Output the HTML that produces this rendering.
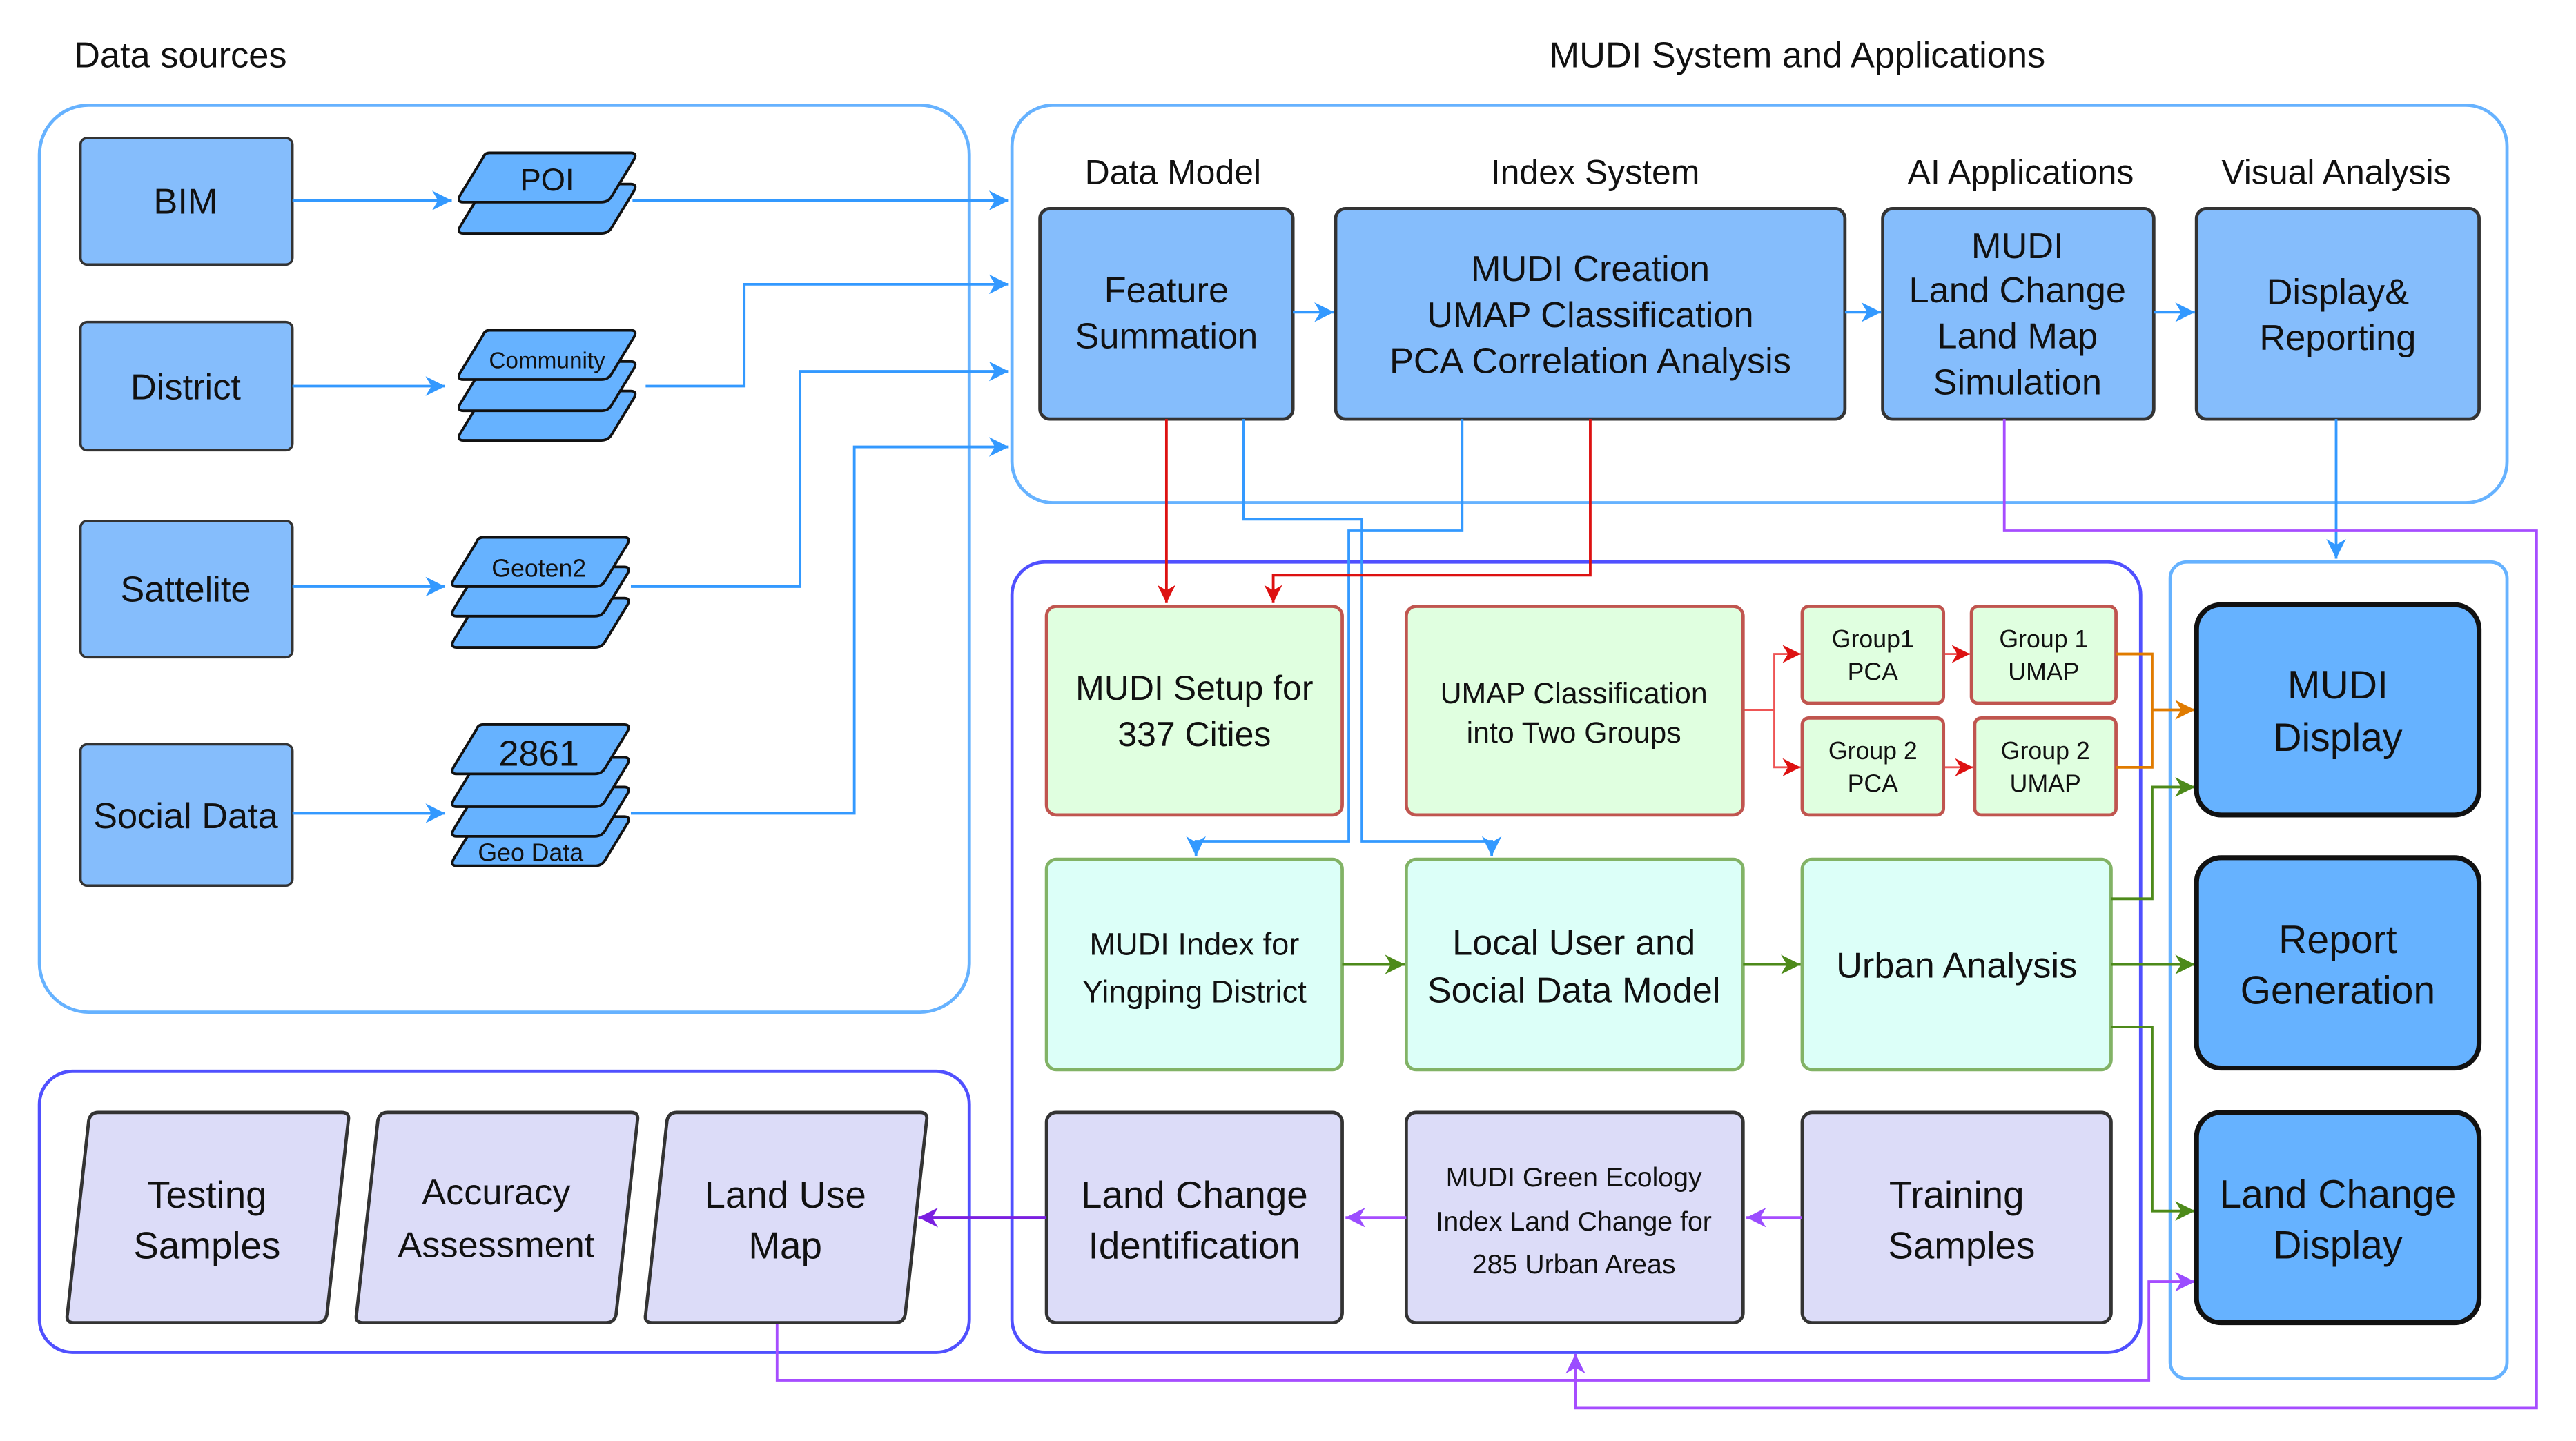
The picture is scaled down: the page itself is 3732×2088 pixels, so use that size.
<!DOCTYPE html>
<html><head><meta charset="utf-8"><style>
html,body{margin:0;padding:0;background:#fff;}
svg{display:block;}
text{font-family:"Liberation Sans",Arial,sans-serif;fill:#111;}
</style></head><body>
<svg xmlns="http://www.w3.org/2000/svg" width="3732" height="2088" viewBox="0 0 1568 877" preserveAspectRatio="none">
<defs>
<marker id="ab" markerUnits="userSpaceOnUse" markerWidth="12" markerHeight="12" refX="10" refY="5" orient="auto" viewBox="0 0 10 10"><path d="M0,0 L10,5 L0,10 L3,5 z" fill="#3399ff"/></marker>
<marker id="ar" markerUnits="userSpaceOnUse" markerWidth="11" markerHeight="11" refX="10" refY="5" orient="auto" viewBox="0 0 10 10"><path d="M0,0 L10,5 L0,10 L3,5 z" fill="#dd1111"/></marker>
<marker id="ag" markerUnits="userSpaceOnUse" markerWidth="12" markerHeight="12" refX="10" refY="5" orient="auto" viewBox="0 0 10 10"><path d="M0,0 L10,5 L0,10 L3,5 z" fill="#4d8a1a"/></marker>
<marker id="ao" markerUnits="userSpaceOnUse" markerWidth="12" markerHeight="12" refX="10" refY="5" orient="auto" viewBox="0 0 10 10"><path d="M0,0 L10,5 L0,10 L3,5 z" fill="#e07b00"/></marker>
<marker id="ap" markerUnits="userSpaceOnUse" markerWidth="12" markerHeight="12" refX="10" refY="5" orient="auto" viewBox="0 0 10 10"><path d="M0,0 L10,5 L0,10 L3,5 z" fill="#9b4dff"/></marker>
<marker id="ap2" markerUnits="userSpaceOnUse" markerWidth="12" markerHeight="12" refX="10" refY="5" orient="auto" viewBox="0 0 10 10"><path d="M0,0 L10,5 L0,10 L3,5 z" fill="#7a1fe0"/></marker>
<path id="lay" d="M18,0 L104,0 Q108,0 106,4 L92,27 Q90,30 86,30 L2,30 Q-2,30 0,26 L14,3 Q15,0 18,0 z"/>
</defs>

<text x="45" y="41" font-size="22">Data sources</text>
<text x="1094" y="41" font-size="22" text-anchor="middle">MUDI System and Applications</text>

<rect x="24" y="64" width="566" height="552" rx="30" fill="none" stroke="#66b2ff" stroke-width="2"/>
<rect x="616" y="64" width="910" height="242" rx="25" fill="none" stroke="#66b2ff" stroke-width="2"/>
<rect x="616" y="342" width="687" height="481" rx="20" fill="none" stroke="#5050ff" stroke-width="2"/>
<rect x="1321" y="342" width="205" height="497" rx="10" fill="none" stroke="#66b2ff" stroke-width="2"/>
<rect x="24" y="652" width="566" height="171" rx="20" fill="none" stroke="#5050ff" stroke-width="2"/>

<g fill="#85bdfc" stroke="#333" stroke-width="1.5">
<rect x="49" y="84" width="129" height="77" rx="4"/>
<rect x="49" y="196" width="129" height="78" rx="4"/>
<rect x="49" y="317" width="129" height="83" rx="4"/>
<rect x="49" y="453" width="129" height="86" rx="4"/>
</g>
<g font-size="22" text-anchor="middle">
<text x="113" y="130">BIM</text>
<text x="113" y="243">District</text>
<text x="113" y="366">Sattelite</text>
<text x="113" y="504">Social Data</text>
</g>

<g fill="#66b2ff" stroke="#111" stroke-width="1.6">
<use href="#lay" x="280" y="112"/><use href="#lay" x="280" y="93"/>
<use href="#lay" x="280" y="238"/><use href="#lay" x="280" y="220"/><use href="#lay" x="280" y="201"/>
<use href="#lay" x="276" y="364"/><use href="#lay" x="276" y="345"/><use href="#lay" x="276" y="327"/>
<use href="#lay" x="276" y="497"/><use href="#lay" x="276" y="479"/><use href="#lay" x="276" y="461"/><use href="#lay" x="276" y="441"/>
</g>
<g text-anchor="middle">
<text x="333" y="116" font-size="19">POI</text>
<text x="333" y="224" font-size="14">Community</text>
<text x="328" y="351" font-size="15">Geoten2</text>
<text x="328" y="466" font-size="22">2861</text>
<text x="323" y="524" font-size="15">Geo Data</text>
</g>

<g stroke="#3399ff" stroke-width="1.6" fill="none">
<path d="M178,122 H275" marker-end="url(#ab)"/>
<path d="M385,122 H614" marker-end="url(#ab)"/>
<path d="M178,235 H271" marker-end="url(#ab)"/>
<path d="M393,235 H453 V173 H614" marker-end="url(#ab)"/>
<path d="M178,357 H271" marker-end="url(#ab)"/>
<path d="M384,357 H487 V226 H614" marker-end="url(#ab)"/>
<path d="M178,495 H271" marker-end="url(#ab)"/>
<path d="M384,495 H520 V272 H614" marker-end="url(#ab)"/>
</g>

<g font-size="21" text-anchor="middle">
<text x="714" y="112">Data Model</text>
<text x="971" y="112">Index System</text>
<text x="1230" y="112">AI Applications</text>
<text x="1422" y="112">Visual Analysis</text>
</g>
<g fill="#85bdfc" stroke="#333" stroke-width="2">
<rect x="633" y="127" width="154" height="128" rx="6"/>
<rect x="813" y="127" width="310" height="128" rx="6"/>
<rect x="1146" y="127" width="165" height="128" rx="6"/>
<rect x="1337" y="127" width="172" height="128" rx="6"/>
</g>
<g font-size="22" text-anchor="middle">
<text x="710" y="184">Feature</text><text x="710" y="212">Summation</text>
<text x="968" y="171">MUDI Creation</text><text x="968" y="199">UMAP Classification</text><text x="968" y="227">PCA Correlation Analysis</text>
<text x="1228" y="157">MUDI</text><text x="1228" y="184">Land Change</text><text x="1228" y="212">Land Map</text><text x="1228" y="240">Simulation</text>
<text x="1423" y="185">Display&amp;</text><text x="1423" y="213">Reporting</text>
</g>
<g stroke="#3399ff" stroke-width="1.6" fill="none">
<path d="M787,190 H812" marker-end="url(#ab)"/>
<path d="M1123,190 H1145" marker-end="url(#ab)"/>
<path d="M1311,190 H1336" marker-end="url(#ab)"/>
<path d="M1422,255 V340" marker-end="url(#ab)"/>
<path d="M757,255 V316 H829 V512 H908 V521" marker-end="url(#ab)"/>
<path d="M890,255 V323 H821 V512 H728 V521" marker-end="url(#ab)"/>
</g>

<g stroke="#dd1111" stroke-width="1.6" fill="none">
<path d="M710,255 V367" marker-end="url(#ar)"/>
<path d="M968,255 V350 H775 V367" marker-end="url(#ar)"/>
</g>
<g stroke="#ee5555" stroke-width="1.2" fill="none">
<path d="M1061,432 H1080 V398 H1096" marker-end="url(#ar)"/>
<path d="M1080,432 V467 H1096" marker-end="url(#ar)"/>
<path d="M1183,398 H1199" marker-end="url(#ar)"/>
<path d="M1183,467 H1201" marker-end="url(#ar)"/>
</g>

<g stroke="#a64dff" stroke-width="1.6" fill="none">
<path d="M1220,255 V323 H1544 V857 H959 V824" marker-end="url(#ap)"/>
<path d="M473,805 V840 H1308 V780 H1336" marker-end="url(#ap)"/>
</g>

<g fill="#e0ffe0" stroke="#c0554f" stroke-width="2">
<rect x="637" y="369" width="180" height="127" rx="6"/>
<rect x="856" y="369" width="205" height="127" rx="6"/>
<rect x="1097" y="369" width="86" height="59" rx="4"/>
<rect x="1200" y="369" width="88" height="59" rx="4"/>
<rect x="1097" y="437" width="86" height="59" rx="4"/>
<rect x="1202" y="437" width="86" height="59" rx="4"/>
</g>
<g text-anchor="middle">
<text x="727" y="426" font-size="21">MUDI Setup for</text><text x="727" y="454" font-size="21">337 Cities</text>
<text x="958" y="428" font-size="18">UMAP Classification</text><text x="958" y="452" font-size="18">into Two Groups</text>
<text x="1140" y="394" font-size="15">Group1</text><text x="1140" y="414" font-size="15">PCA</text>
<text x="1244" y="394" font-size="15">Group 1</text><text x="1244" y="414" font-size="15">UMAP</text>
<text x="1140" y="462" font-size="15">Group 2</text><text x="1140" y="482" font-size="15">PCA</text>
<text x="1245" y="462" font-size="15">Group 2</text><text x="1245" y="482" font-size="15">UMAP</text>
</g>
<g stroke="#e07b00" stroke-width="1.6" fill="none">
<path d="M1288,398 H1310 V432 H1336" marker-end="url(#ao)"/>
<path d="M1288,467 H1310 V432"/>
</g>

<g fill="#dcfff8" stroke="#82b366" stroke-width="2">
<rect x="637" y="523" width="180" height="128" rx="6"/>
<rect x="856" y="523" width="205" height="128" rx="6"/>
<rect x="1097" y="523" width="188" height="128" rx="6"/>
</g>
<g text-anchor="middle">
<text x="727" y="581" font-size="19">MUDI Index for</text><text x="727" y="610" font-size="19">Yingping District</text>
<text x="958" y="581" font-size="22">Local User and</text><text x="958" y="610" font-size="22">Social Data Model</text>
<text x="1191" y="595" font-size="22">Urban Analysis</text>
</g>
<g stroke="#4d8a1a" stroke-width="1.6" fill="none">
<path d="M817,587 H855" marker-end="url(#ag)"/>
<path d="M1061,587 H1096" marker-end="url(#ag)"/>
<path d="M1285,587 H1336" marker-end="url(#ag)"/>
<path d="M1285,547 H1310 V479 H1336" marker-end="url(#ag)"/>
<path d="M1285,625 H1310 V737 H1336" marker-end="url(#ag)"/>
</g>

<g fill="#dcdcf8" stroke="#333" stroke-width="2">
<rect x="637" y="677" width="180" height="128" rx="6"/>
<rect x="856" y="677" width="205" height="128" rx="6"/>
<rect x="1097" y="677" width="188" height="128" rx="6"/>
<path d="M60,677 H208 Q213,677 212,682 L199,800 Q198,805 193,805 H45 Q40,805 41,800 L54,682 Q55,677 60,677 z"/>
<path d="M236,677 H384 Q389,677 388,682 L375,800 Q374,805 369,805 H221 Q216,805 217,800 L230,682 Q231,677 236,677 z"/>
<path d="M412,677 H560 Q565,677 564,682 L551,800 Q550,805 545,805 H397 Q392,805 393,800 L406,682 Q407,677 412,677 z"/>
</g>
<g text-anchor="middle">
<text x="727" y="735" font-size="23">Land Change</text><text x="727" y="766" font-size="23">Identification</text>
<text x="958" y="722" font-size="16.5">MUDI Green Ecology</text><text x="958" y="749" font-size="16.5">Index Land Change for</text><text x="958" y="775" font-size="16.5">285 Urban Areas</text>
<text x="1191" y="735" font-size="23">Training</text><text x="1194" y="766" font-size="23">Samples</text>
<text x="126" y="735" font-size="23">Testing</text><text x="126" y="766" font-size="23">Samples</text>
<text x="302" y="733" font-size="22">Accuracy</text><text x="302" y="765" font-size="22">Assessment</text>
<text x="478" y="735" font-size="23">Land Use</text><text x="478" y="766" font-size="23">Map</text>
</g>
<g stroke="#a64dff" stroke-width="1.6" fill="none">
<path d="M1097,741 H1063" marker-end="url(#ap)"/>
<path d="M856,741 H819" marker-end="url(#ap)"/>
</g>
<path d="M637,741 H559" stroke="#7a1fe0" stroke-width="1.8" fill="none" marker-end="url(#ap2)"/>

<g fill="#66b2ff" stroke="#111" stroke-width="3">
<rect x="1337" y="368" width="172" height="128" rx="15"/>
<rect x="1337" y="522" width="172" height="128" rx="15"/>
<rect x="1337" y="677" width="172" height="128" rx="15"/>
</g>
<g font-size="24" text-anchor="middle">
<text x="1423" y="425">MUDI</text><text x="1423" y="457">Display</text>
<text x="1423" y="580">Report</text><text x="1423" y="611">Generation</text>
<text x="1423" y="735">Land Change</text><text x="1423" y="766">Display</text>
</g>
</svg>
</body></html>
